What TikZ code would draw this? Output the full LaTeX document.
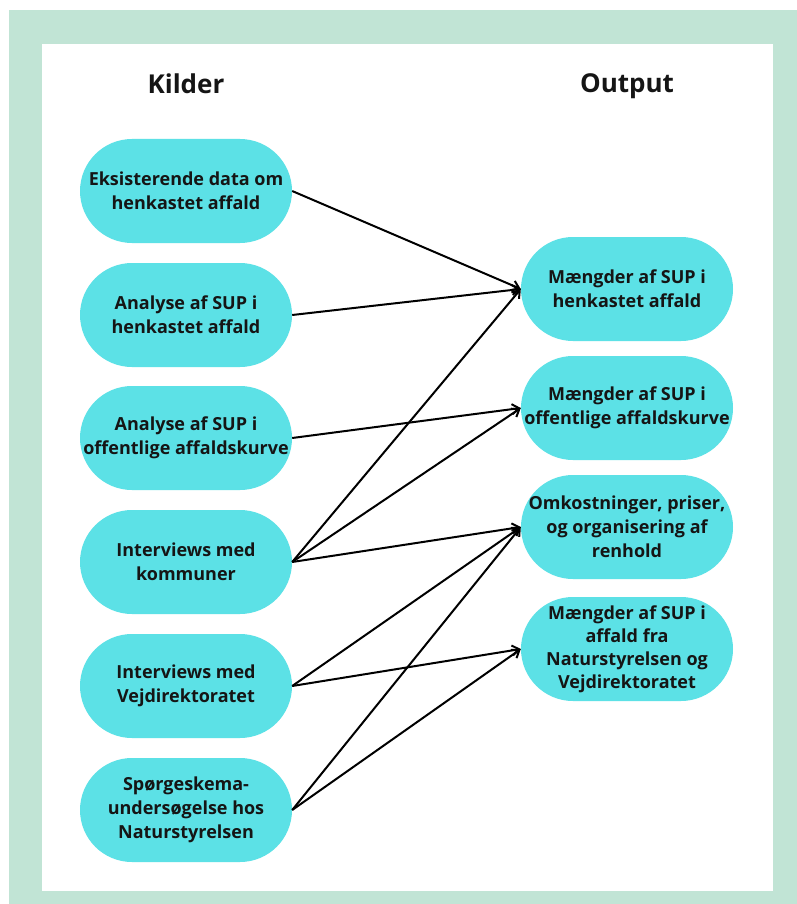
\documentclass[tikz,border=0pt]{standalone}
\usepackage{fontspec}
\setmainfont{Open Sans}
\usepackage{tikz}
\usetikzlibrary{arrows.meta}
\definecolor{rammegroen}{HTML}{C1E4D5}
\definecolor{kassecyan}{HTML}{5CE1E6}
\definecolor{tekstmoerk}{HTML}{151515}

\begin{document}
\begin{tikzpicture}[x=1pt,y=-1pt,
    kasse/.style={fill=kassecyan, rounded corners=52pt, minimum width=212pt,
      minimum height=104pt, inner sep=0pt, align=center, text=tekstmoerk,
      font=\fontsize{18}{24}\selectfont\bfseries},
    pil/.style={-{Straight Barb[length=7pt,width=10pt]}, line width=2pt, black},
    overskrift/.style={font=\fontsize{26}{30}\selectfont\bfseries, text=tekstmoerk, anchor=base}]
  \useasboundingbox (0,0) rectangle (797,904);
  \fill[rammegroen] (9,10) rectangle (797,904);
  \fill[white] (42,44) rectangle (773,891);

  \path (186,94) node[overskrift] (kilder) {Kilder};
  \path (627,93) node[overskrift] (output) {Output};

  % kilder
  \path (186,191) node[kasse] (k1) {Eksisterende data om\\henkastet affald};
  \path (186,315) node[kasse] (k2) {Analyse af SUP i\\henkastet affald};
  \path (186,438) node[kasse] (k3) {Analyse af SUP i\\offentlige affaldskurve};
  \path (186,562) node[kasse] (k4) {Interviews med\\kommuner};
  \path (186,686) node[kasse] (k5) {Interviews med\\Vejdirektoratet};
  \path (186,810) node[kasse] (k6) {Spørgeskema-\\undersøgelse hos\\Naturstyrelsen};

  % output
  \path (627,289) node[kasse] (o1) {Mængder af SUP i\\henkastet affald};
  \path (627,408) node[kasse] (o2) {Mængder af SUP i\\offentlige affaldskurve};
  \path (627,527) node[kasse] (o3) {Omkostninger, priser,\\og organisering af\\renhold};
  \path (627,649) node[kasse,font=\fontsize{18}{23}\selectfont\bfseries] (o4) {Mængder af SUP i\\affald fra\\Naturstyrelsen og\\Vejdirektoratet};

  \draw[pil] (k1.east) -- (o1.west);
  \draw[pil] (k2.east) -- (o1.west);
  \draw[pil] (k3.east) -- (o2.west);
  \draw[pil] (k4.east) -- (o1.west);
  \draw[pil] (k4.east) -- (o2.west);
  \draw[pil] (k4.east) -- (o3.west);
  \draw[pil] (k5.east) -- (o3.west);
  \draw[pil] (k5.east) -- (o4.west);
  \draw[pil] (k6.east) -- (o3.west);
  \draw[pil] (k6.east) -- (o4.west);
\end{tikzpicture}
\end{document}
